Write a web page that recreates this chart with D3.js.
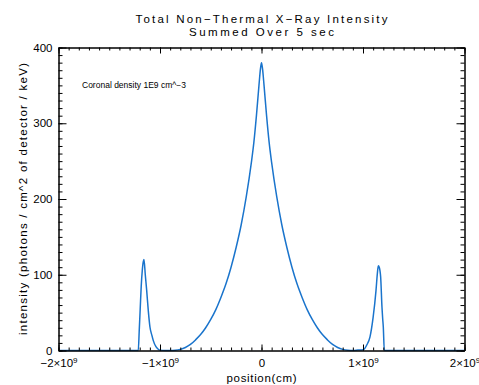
<!DOCTYPE html>
<html>
<head>
<meta charset="utf-8">
<script src="https://cdn.jsdelivr.net/npm/d3@7"></script>
<style>
  body { margin: 0; background: #fff; }
  svg { display: block; }
  text { font-family: "Liberation Sans", Arial, sans-serif; fill: #000; }
</style>
</head>
<body>
<div id="chart"></div>
<script>
// position in units of 1e9 cm, intensity in photons / cm^2 of detector / keV
const positionE9 = [
    -2.0, -1.3, -1.214, -1.205, -1.195, -1.185, -1.175, -1.165, -1.158, -1.145,
    -1.131, -1.115, -1.099, -1.08, -1.066, -1.04, -1.02, -1.0, -0.95, -0.9,
    -0.85, -0.8, -0.75, -0.7, -0.65, -0.6, -0.55, -0.5, -0.45, -0.4,
    -0.35, -0.3, -0.25, -0.2, -0.15, -0.1, -0.075, -0.05, -0.025, -0.01,
    0.0,
    0.01, 0.025, 0.05, 0.075, 0.1, 0.15, 0.2, 0.25, 0.3, 0.35,
    0.4, 0.45, 0.5, 0.55, 0.6, 0.65, 0.7, 0.75, 0.8, 0.85,
    0.9, 0.95, 1.003, 1.036, 1.069, 1.1, 1.128, 1.141, 1.151, 1.16,
    1.174, 1.187, 1.194, 1.2, 1.21, 1.25, 2.0
];
const intensity = [
    0, 0, 0, 25, 55, 85, 105, 117, 120, 100,
    79, 52, 31, 20, 13, 5, 2, 0.5, 0, 0,
    0.3, 1.5, 4, 8, 14, 21, 30, 41, 54, 70,
    88, 110, 136, 166, 203, 248, 275, 310, 350, 372,
    380,
    372, 350, 310, 275, 248, 203, 166, 136, 110, 88,
    70, 54, 41, 30, 21, 14, 8, 4, 1.5, 0.3,
    0, 0.5, 1, 7, 18, 44, 79, 101, 112, 110,
    97, 57, 42, 31, 0, 0, 0
];

const xMajorTicks = [-2, -1, 0, 1, 2];
const xTickLabels = [["−2×10", "9"], ["−1×10", "9"], ["0", ""], ["1×10", "9"], ["2×10", "9"]];
const yMajorTicks = [0, 100, 200, 300, 400];

const titleLines = ["Total Non\u2212Thermal X\u2212Ray Intensity", "Summed Over 5 sec"];
const xTitle = "position(cm)";
const yTitle = "intensity (photons / cm^2 of detector / keV)";
const note = "Coronal density 1E9 cm^\u22123";

const width = 479, height = 385;
const margin = { top: 47.5, right: 14.5, bottom: 34.5, left: 58.5 };

const svg = d3.select("#chart").append("svg")
    .attr("width", width)
    .attr("height", height);

const x = d3.scaleLinear().domain([-2, 2]).range([margin.left, width - margin.right]);
const y = d3.scaleLinear().domain([0, 400]).range([height - margin.bottom, margin.top]);

// minor tick positions
const xMinor = d3.range(-20, 21).map(d => d / 10);
const yMinor = d3.range(0, 401, 10);

// Title
svg.append("text")
    .attr("x", 261.5).attr("y", 23)
    .attr("text-anchor", "middle")
    .style("font-size", "11.5px")
    .attr("textLength", 252).attr("lengthAdjust", "spacing")
    .text(titleLines[0]);
svg.append("text")
    .attr("x", 261.5).attr("y", 36)
    .attr("text-anchor", "middle")
    .style("font-size", "11.5px")
    .attr("textLength", 145).attr("lengthAdjust", "spacing")
    .text(titleLines[1]);

// Curve, clipped to the plot box
svg.append("clipPath").attr("id", "plot-clip")
    .append("rect")
    .attr("x", margin.left).attr("y", margin.top)
    .attr("width", x.range()[1] - x.range()[0])
    .attr("height", y.range()[0] - y.range()[1] + 1);

const line = d3.line()
    .x((d, i) => x(positionE9[i]))
    .y(d => y(d))
    .curve(d3.curveMonotoneX);

svg.append("path")
    .datum(intensity)
    .attr("clip-path", "url(#plot-clip)")
    .attr("fill", "none")
    .attr("stroke", "#1a74cc")
    .attr("stroke-width", 1.5)
    .attr("d", line);

// Axes - all four sides with inward ticks
function styleAxis(g) {
    g.selectAll("path.domain").attr("stroke", "#000").attr("stroke-width", 1);
    g.selectAll(".tick line").attr("stroke", "#000");
}

const yBottom = y.range()[0], yTop = y.range()[1];
const xLeft = x.range()[0], xRight = x.range()[1];

// bottom
svg.append("g").attr("transform", `translate(0,${yBottom})`)
    .call(d3.axisBottom(x).tickValues(xMinor).tickSize(-3).tickFormat("").tickSizeOuter(0))
    .call(styleAxis);
const xAxisG = svg.append("g").attr("transform", `translate(0,${yBottom})`)
    .call(d3.axisBottom(x).tickValues(xMajorTicks).tickSize(-6).tickSizeOuter(0).tickPadding(8))
    .call(styleAxis);
xAxisG.attr("font-family", null).attr("font-size", null);
xAxisG.selectAll(".tick text")
    .style("font-size", "11.5px")
    .each(function(d, i) {
        const t = d3.select(this).text("");
        t.append("tspan").text(xTickLabels[i][0]);
        if (xTickLabels[i][1]) {
            t.append("tspan")
                .attr("dy", "-0.4em")
                .style("font-size", "8px")
                .text(xTickLabels[i][1]);
        }
    });

// top
svg.append("g").attr("transform", `translate(0,${yTop})`)
    .call(d3.axisTop(x).tickValues(xMinor).tickSize(-3).tickFormat("").tickSizeOuter(0))
    .call(styleAxis);
svg.append("g").attr("transform", `translate(0,${yTop})`)
    .call(d3.axisTop(x).tickValues(xMajorTicks).tickSize(-6).tickFormat("").tickSizeOuter(0))
    .call(styleAxis);

// left
svg.append("g").attr("transform", `translate(${xLeft},0)`)
    .call(d3.axisLeft(y).tickValues(yMinor).tickSize(-4).tickFormat("").tickSizeOuter(0))
    .call(styleAxis);
const yAxisG = svg.append("g").attr("transform", `translate(${xLeft},0)`)
    .call(d3.axisLeft(y).tickValues(yMajorTicks).tickSize(-8).tickSizeOuter(0).tickPadding(6))
    .call(styleAxis);
yAxisG.attr("font-family", null).attr("font-size", null);
yAxisG.selectAll(".tick text").style("font-size", "11.5px");

// right
svg.append("g").attr("transform", `translate(${xRight},0)`)
    .call(d3.axisRight(y).tickValues(yMinor).tickSize(-4).tickFormat("").tickSizeOuter(0))
    .call(styleAxis);
svg.append("g").attr("transform", `translate(${xRight},0)`)
    .call(d3.axisRight(y).tickValues(yMajorTicks).tickSize(-8).tickFormat("").tickSizeOuter(0))
    .call(styleAxis);

// Axis titles
svg.append("text")
    .attr("x", x(0)).attr("y", 382)
    .attr("text-anchor", "middle")
    .style("font-size", "11.5px")
    .attr("textLength", 70).attr("lengthAdjust", "spacing")
    .text(xTitle);

svg.append("text")
    .attr("transform", `translate(27,${(yTop + yBottom) / 2}) rotate(-90)`)
    .attr("text-anchor", "middle")
    .style("font-size", "11.5px")
    .attr("textLength", 272).attr("lengthAdjust", "spacing")
    .text(yTitle);

// Annotation
svg.append("text")
    .attr("x", 82).attr("y", 88)
    .style("font-size", "8.5px")
    .text(note);
</script>
</body>
</html>
